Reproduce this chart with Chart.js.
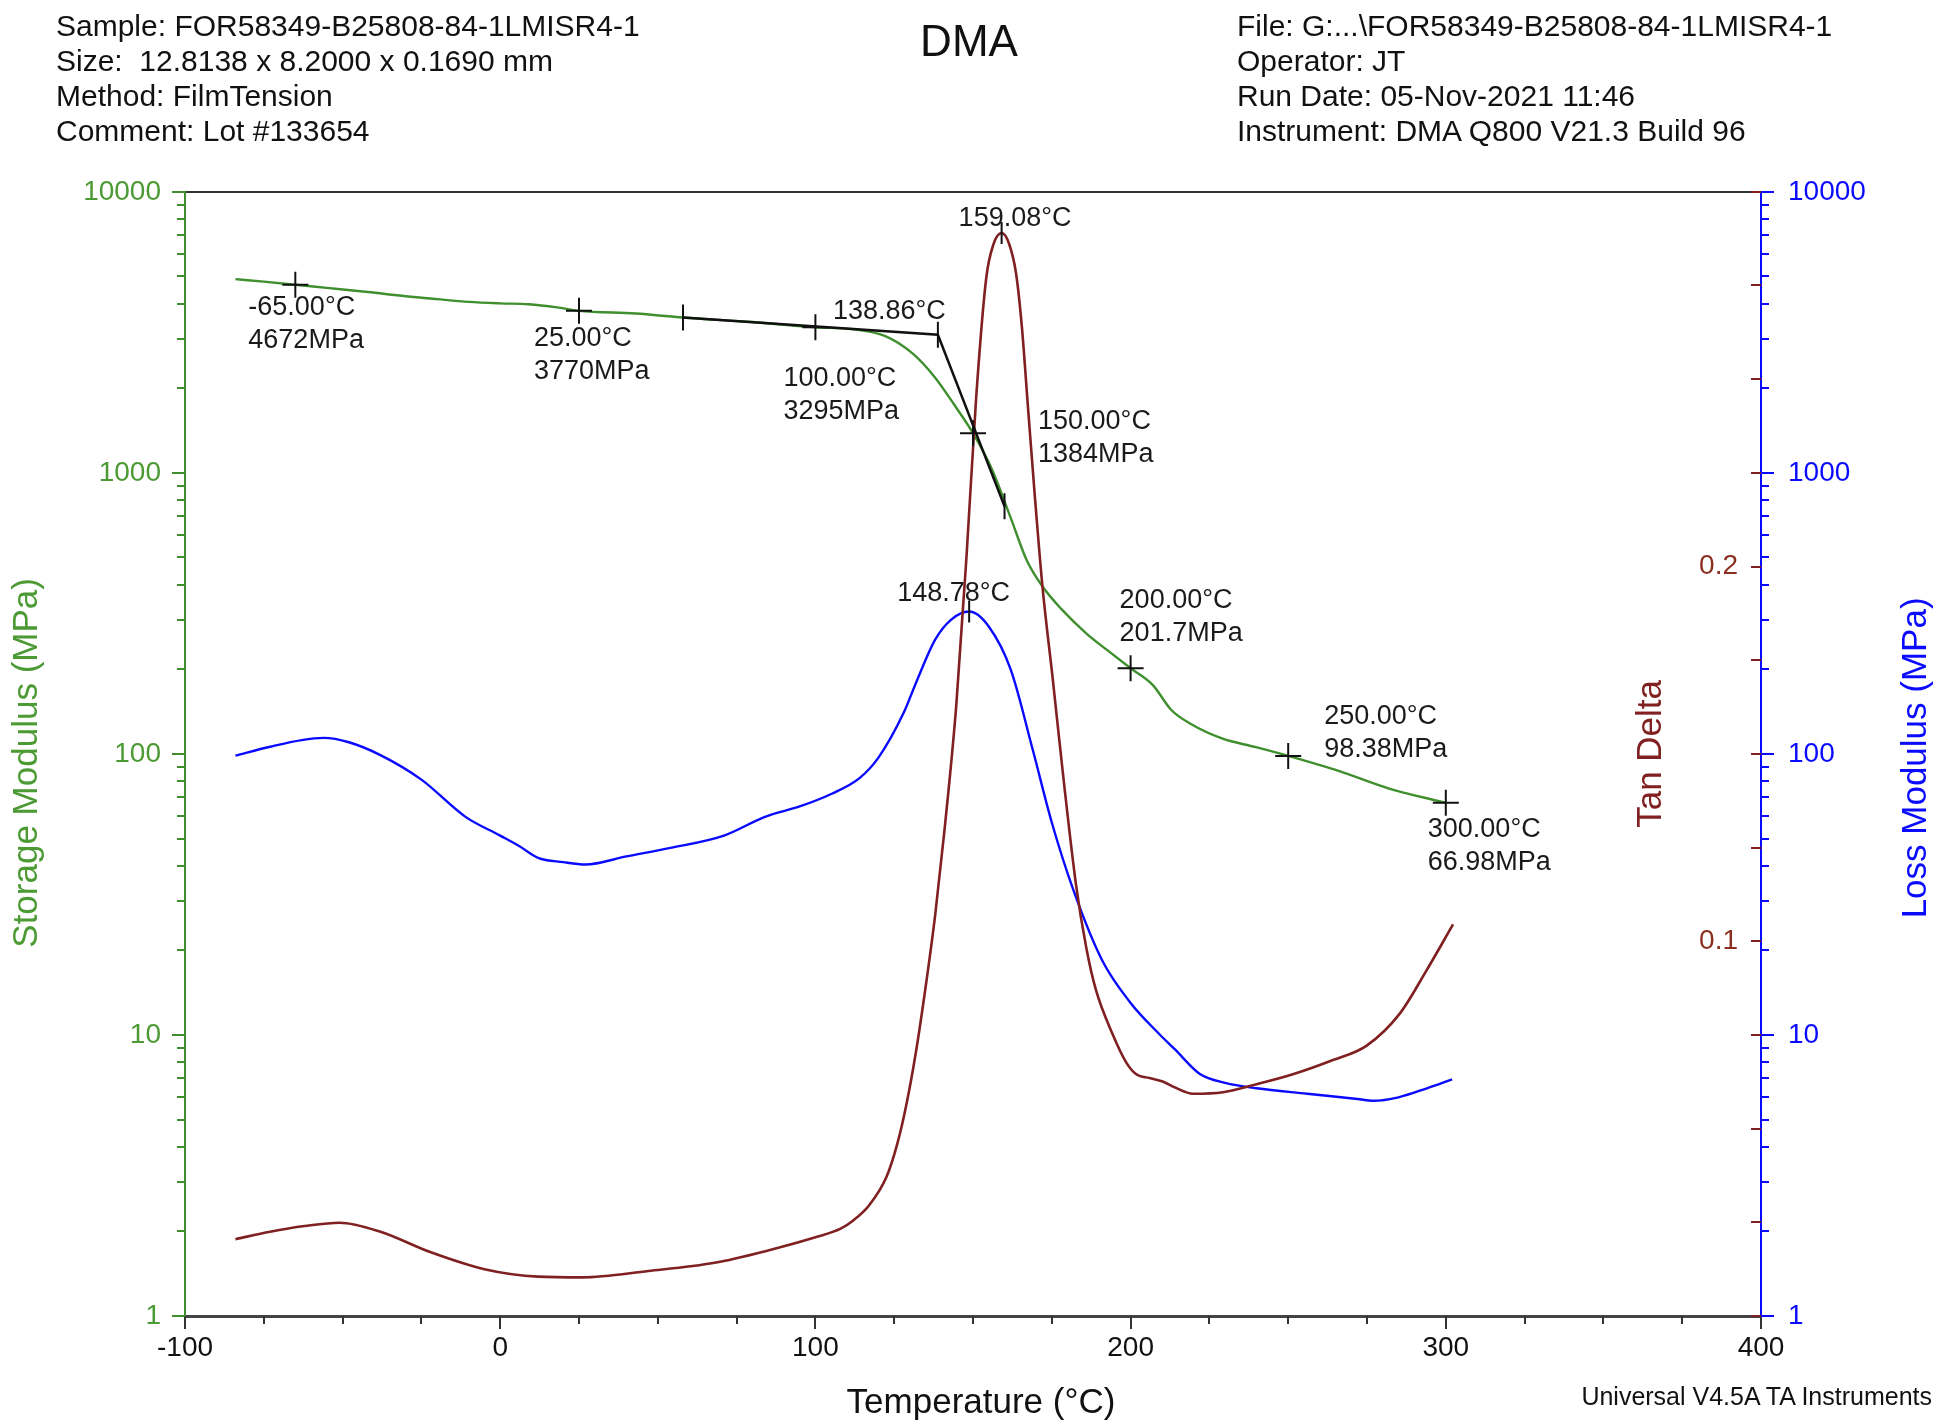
<!DOCTYPE html>
<html>
<head>
<meta charset="utf-8">
<title>DMA</title>
<script src="https://cdn.jsdelivr.net/npm/chart.js"></script>
<style>
  html, body { margin: 0; padding: 0; background: #fff; }
  body { width: 1938px; height: 1428px; position: relative; overflow: hidden; font-family: 'Liberation Sans', Arial, sans-serif; }
  #wrap { position: absolute; left: 0; top: 0; width: 1938px; height: 1428px; }
  .head { position: absolute; top: 8px; font-size: 30px; line-height: 35px; color: #111; white-space: pre; }
  #headL { left: 56px; }
  #headR { left: 1237px; }
  #foot { position: absolute; right: 6px; top: 1382px; font-size: 25px; line-height: 29px; color: #111; }
</style>
</head>
<body>
<div id="wrap"><canvas id="dma"></canvas></div>
<div class="head" id="headL">Sample: FOR58349-B25808-84-1LMISR4-1
Size:  12.8138 x 8.2000 x 0.1690 mm
Method: FilmTension
Comment: Lot #133654</div>
<div class="head" id="headR">File: G:...\FOR58349-B25808-84-1LMISR4-1
Operator: JT
Run Date: 05-Nov-2021 11:46
Instrument: DMA Q800 V21.3 Build 96</div>
<div id="foot">Universal V4.5A TA Instruments</div>
<script>
// --- podatki, odčitani z grafa ---
const storageTemp = [-84, -75, -65, -55, -42, -30, -20, -10, 0, 9, 18, 25, 43, 58, 80, 100, 112, 122, 131, 138, 144, 150, 156, 162, 167, 172, 178, 186, 193, 200, 207, 213, 219, 229, 240, 250, 266, 282, 300];
const storageMod = [4890, 4790, 4672, 4550, 4400, 4250, 4150, 4060, 4010, 3980, 3880, 3770, 3690, 3570, 3440, 3295, 3240, 3070, 2650, 2180, 1750, 1384, 1030, 690, 490, 395, 328, 268, 232, 201.7, 176, 143, 128, 113.5, 105.5, 98.38, 87, 75.3, 66.98];

const lossTemp = [-84, -73, -63, -56, -48, -38, -25, -11, 0, 6, 12, 20, 27, 40, 54, 71, 84, 95, 105, 114, 120, 128, 132, 138, 143, 148.8, 155, 162, 169, 175, 182, 191, 200, 209, 214, 222, 230, 240, 256, 272, 277, 285, 294, 302];
const lossMod = [98.6, 106, 112, 114, 110, 99, 81, 59.7, 51.2, 47, 42.7, 41.2, 40.4, 43.2, 46.3, 51.2, 59.7, 65, 72, 82, 97, 140, 180, 255, 300, 321, 284, 199, 103, 57, 32.4, 18.4, 13.0, 10.1, 8.9, 7.26, 6.75, 6.46, 6.18, 5.92, 5.83, 6.0, 6.46, 6.95];

const tanTemp = [-84, -73, -62, -51, -38, -22, -5, 12, 26, 47, 68, 85, 100, 108, 112, 117, 122.5, 126, 129, 132, 135, 138, 141, 144.7, 148, 151, 154.2, 156.5, 159.1, 161.5, 163.7, 165.5, 167.4, 169.5, 172, 175.3, 178.5, 182.7, 186, 189, 194.4, 198.6, 201.8, 206, 210.2, 214, 219.8, 229.3, 238.8, 251.5, 264.2, 274.8, 285.4, 293.8, 302.3];
const tanDelta = [0.0205, 0.0225, 0.0240, 0.0249, 0.0225, 0.017, 0.0125, 0.0105, 0.0103, 0.012, 0.0142, 0.0175, 0.021, 0.0233, 0.0255, 0.0295, 0.037, 0.046, 0.057, 0.071, 0.088, 0.107, 0.13, 0.163, 0.2035, 0.245, 0.277, 0.286, 0.289, 0.286, 0.278, 0.264, 0.243, 0.22, 0.195, 0.17, 0.145, 0.115, 0.098, 0.087, 0.075, 0.0677, 0.0645, 0.0635, 0.0626, 0.061, 0.0593, 0.0597, 0.0616, 0.0645, 0.0683, 0.0721, 0.0807, 0.0921, 0.1045];

// onset (tangenti) in označene točke
const onsetTemp = [58, 138.86, 160];
const onsetMod = [3570, 3100, 760];
const markTemp = [-65, 25, 100, 150, 200, 250, 300];
const markMod = [4672, 3770, 3295, 1384, 201.7, 98.38, 66.98];
const tanPeak = [159.08, 0.289];
const lossPeak = [148.78, 321];

// oznake osi
const tempTicks = [-100, -75, -50, -25, 0, 25, 50, 75, 100, 125, 150, 175, 200, 225, 250, 275, 300, 325, 350, 375, 400];
const tempLabels = [-100, 0, 100, 200, 300, 400];
const decades = [1, 10, 100, 1000, 10000];
const minorSteps = [2, 3, 4, 5, 6, 7, 8, 9];
const tanTicks = [0, 0.025, 0.05, 0.075, 0.1, 0.125, 0.15, 0.175, 0.2, 0.225, 0.25, 0.275, 0.3];
const tanLabels = [0.1, 0.2];

const notes = [
    { axis: 'yS', x: -65, y: 4672, lines: ['-65.00°C', '4672MPa'], dx: -47, dy: 23 },
    { axis: 'yS', x: 25, y: 3770, lines: ['25.00°C', '3770MPa'], dx: -45, dy: 28 },
    { axis: 'yS', x: 100, y: 3295, lines: ['100.00°C', '3295MPa'], dx: -32, dy: 51 },
    { axis: 'yS', x: 138.86, y: 3100, lines: ['138.86°C'], dx: -105, dy: -23 },
    { axis: 'yS', x: 150, y: 1384, lines: ['150.00°C', '1384MPa'], dx: 65, dy: -12 },
    { axis: 'yT', x: 159.08, y: 0.289, lines: ['159.08°C'], dx: -43, dy: -14 },
    { axis: 'yL', x: 148.78, y: 321, lines: ['148.78°C'], dx: -72, dy: -18 },
    { axis: 'yS', x: 200, y: 201.7, lines: ['200.00°C', '201.7MPa'], dx: -11, dy: -68 },
    { axis: 'yS', x: 250, y: 98.38, lines: ['250.00°C', '98.38MPa'], dx: 36, dy: -39 },
    { axis: 'yS', x: 300, y: 66.98, lines: ['300.00°C', '66.98MPa'], dx: -18, dy: 27 }
];

const GREEN = '#3f8f2f';
const GREEN_TXT = '#4c9a34';
const BROWN = '#802020';
const BROWN_TXT = '#8b3020';
const BLUE = '#0a0aff';
const FONT = "'Liberation Sans', Arial, sans-serif";

const logTicks = [];
decades.forEach(d => {
    logTicks.push(d);
    if (d < 10000) minorSteps.forEach(m => logTicks.push(d * m));
});

const pts = (xs, ys) => xs.map((x, i) => ({ x: x, y: ys[i] }));

function line(ctx, x1, y1, x2, y2) {
    ctx.beginPath();
    ctx.moveTo(x1, y1);
    ctx.lineTo(x2, y2);
    ctx.stroke();
}

// --- oznake na oseh (glavne daljše, pomožne krajše) ---
const tickMarks = {
    id: 'tickMarks',
    afterDraw(chart) {
        const { ctx, chartArea: a, scales: s } = chart;
        ctx.save();
        ctx.lineWidth = 2;
        ctx.strokeStyle = '#333';
        tempTicks.forEach(t => {
            const px = Math.round(s.x.getPixelForValue(t));
            line(ctx, px, a.bottom, px, a.bottom + (tempLabels.includes(t) ? 13 : 8));
        });
        ctx.strokeStyle = GREEN;
        logTicks.forEach(v => {
            const py = Math.round(s.yS.getPixelForValue(v));
            line(ctx, a.left, py, a.left - (decades.includes(v) ? 13 : 8), py);
        });
        ctx.strokeStyle = BROWN;
        tanTicks.forEach(v => {
            const py = Math.round(s.yT.getPixelForValue(v));
            line(ctx, a.right, py, a.right - 10, py);
        });
        ctx.strokeStyle = BLUE;
        logTicks.forEach(v => {
            const py = Math.round(s.yL.getPixelForValue(v));
            line(ctx, a.right, py, a.right + (decades.includes(v) ? 13 : 8), py);
        });
        ctx.restore();
    }
};

// --- naslovi osi ---
const axisTitles = {
    id: 'axisTitles',
    afterDraw(chart) {
        const { ctx, chartArea: a, scales: s } = chart;
        const cy = (a.top + a.bottom) / 2;
        const put = (txt, x, y, color, rot) => {
            ctx.save();
            ctx.translate(x, y);
            if (rot) ctx.rotate(-Math.PI / 2);
            ctx.font = '35px ' + FONT;
            ctx.fillStyle = color;
            ctx.textAlign = 'center';
            ctx.textBaseline = 'middle';
            ctx.fillText(txt, 0, 0);
            ctx.restore();
        };
        put('Temperature (°C)', (a.left + a.right) / 2 + 8, s.x.bottom - 25, '#111', false);
        put('Storage Modulus (MPa)', 27, cy + 9, GREEN_TXT, true);
        put('Tan Delta', a.right - 110, cy, BROWN, true);
        put('Loss Modulus (MPa)', s.yL.right - 22, cy + 4, BLUE, true);
    }
};

// --- napisi ob označenih točkah ---
const noteLabels = {
    id: 'noteLabels',
    afterDatasetsDraw(chart) {
        const { ctx, scales: s } = chart;
        ctx.save();
        ctx.font = '27px ' + FONT;
        ctx.fillStyle = '#1a1a1a';
        ctx.textAlign = 'left';
        ctx.textBaseline = 'middle';
        notes.forEach(n => {
            const px = s.x.getPixelForValue(n.x);
            const py = s[n.axis].getPixelForValue(n.y);
            n.lines.forEach((t, i) => ctx.fillText(t, px + n.dx, py + n.dy + i * 33));
        });
        ctx.restore();
    }
};

Chart.defaults.font.family = FONT;

new Chart(document.getElementById('dma'), {
    type: 'line',
    data: {
        datasets: [
            {
                label: 'markers', data: pts(markTemp, markMod), yAxisID: 'yS',
                showLine: false, pointStyle: 'cross', pointRadius: 13, borderColor: '#111', borderWidth: 2, order: 0
            },
            {
                label: 'onset ticks', data: pts(onsetTemp, onsetMod), yAxisID: 'yS',
                showLine: false, pointStyle: 'line', rotation: 90, pointRadius: 13, borderColor: '#111', borderWidth: 2, order: 0
            },
            {
                label: 'tan peak', data: [{ x: tanPeak[0], y: tanPeak[1] }], yAxisID: 'yT',
                showLine: false, pointStyle: 'line', rotation: 90, pointRadius: 11, borderColor: '#111', borderWidth: 2, order: 0
            },
            {
                label: 'loss peak', data: [{ x: lossPeak[0], y: lossPeak[1] }], yAxisID: 'yL',
                showLine: false, pointStyle: 'line', rotation: 90, pointRadius: 11, borderColor: '#111', borderWidth: 2, order: 0
            },
            {
                label: 'onset', data: pts(onsetTemp, onsetMod), yAxisID: 'yS',
                borderColor: '#111', borderWidth: 2.5, pointRadius: 0, tension: 0, order: 1
            },
            {
                label: 'Tan Delta', data: pts(tanTemp, tanDelta), yAxisID: 'yT',
                borderColor: BROWN, borderWidth: 2.6, pointRadius: 0, cubicInterpolationMode: 'monotone', order: 2
            },
            {
                label: 'Storage Modulus', data: pts(storageTemp, storageMod), yAxisID: 'yS',
                borderColor: GREEN, borderWidth: 2.4, pointRadius: 0, cubicInterpolationMode: 'monotone', order: 3
            },
            {
                label: 'Loss Modulus', data: pts(lossTemp, lossMod), yAxisID: 'yL',
                borderColor: BLUE, borderWidth: 2.4, pointRadius: 0, cubicInterpolationMode: 'monotone', order: 4
            }
        ]
    },
    options: {
        responsive: true,
        maintainAspectRatio: false,
        animation: false,
        events: [],
        layout: { padding: 0 },
        plugins: {
            legend: { display: false },
            tooltip: { enabled: false },
            title: {
                display: true, text: 'DMA', color: '#111',
                font: { size: 44, weight: 'normal' },
                padding: { top: 17, bottom: 122 }
            }
        },
        scales: {
            x: {
                type: 'linear', position: 'bottom', min: -100, max: 400,
                afterFit: sc => { sc.height = 112; },
                afterBuildTicks: sc => { sc.ticks = tempTicks.map(v => ({ value: v })); },
                ticks: {
                    autoSkip: false, maxRotation: 0, padding: 15, color: '#111',
                    font: { size: 28 },
                    callback: v => tempLabels.includes(v) ? String(v) : ''
                },
                grid: { drawOnChartArea: false, drawTicks: false },
                border: { color: '#444', width: 3 }
            },
            xTop: {
                type: 'linear', position: 'top', min: -100, max: 400,
                afterFit: sc => { sc.height = 0; },
                ticks: { display: false },
                grid: { drawOnChartArea: false, drawTicks: false },
                border: { color: '#333', width: 2 }
            },
            yS: {
                type: 'logarithmic', position: 'left', min: 1, max: 10000,
                afterFit: sc => { sc.width = 185; },
                afterBuildTicks: sc => { sc.ticks = logTicks.map(v => ({ value: v })); },
                ticks: {
                    autoSkip: false, padding: 24, color: GREEN_TXT, font: { size: 28 },
                    callback: v => decades.includes(v) ? String(v) : ''
                },
                grid: { drawOnChartArea: false, drawTicks: false },
                border: { color: GREEN, width: 2 }
            },
            yT: {
                type: 'linear', position: 'right', min: 0, max: 0.3, weight: 0,
                afterFit: sc => { sc.width = 0; },
                afterBuildTicks: sc => { sc.ticks = tanTicks.map(v => ({ value: v })); },
                ticks: {
                    autoSkip: false, mirror: true, padding: -23, color: BROWN_TXT, font: { size: 28 },
                    callback: v => tanLabels.some(t => Math.abs(t - v) < 1e-9) ? String(v) : ''
                },
                grid: { drawOnChartArea: false, drawTicks: false },
                border: { display: false }
            },
            yL: {
                type: 'logarithmic', position: 'right', min: 1, max: 10000, weight: 1,
                afterFit: sc => { sc.width = 177; },
                afterBuildTicks: sc => { sc.ticks = logTicks.map(v => ({ value: v })); },
                ticks: {
                    autoSkip: false, padding: 27, color: BLUE, font: { size: 28 },
                    callback: v => decades.includes(v) ? String(v) : ''
                },
                grid: { drawOnChartArea: false, drawTicks: false },
                border: { color: BLUE, width: 2 }
            }
        }
    },
    plugins: [tickMarks, axisTitles, noteLabels]
});
</script>
</body>
</html>
